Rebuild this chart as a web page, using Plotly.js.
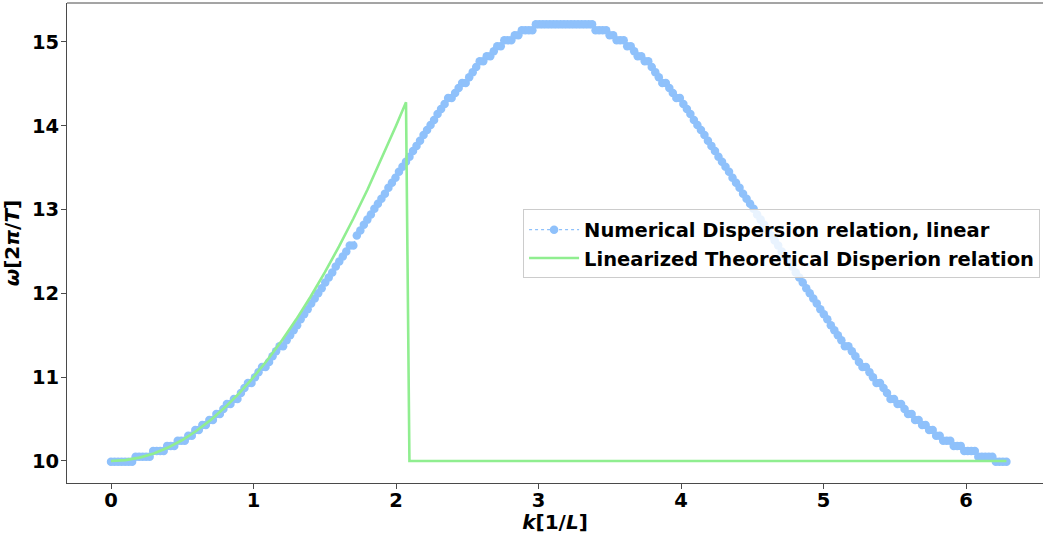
<!DOCTYPE html>
<html>
<head>
<meta charset="utf-8">
<script src="https://cdn.plot.ly/plotly-3.0.1.min.js"></script>
<style>html,body{margin:0;padding:0;background:#fff;}#chart{width:1043px;height:534px;}</style>
</head>
<body>
<div id="chart"></div>
<script>
// Numerical dispersion relation (256 modes, k from 0 to 2*pi, evenly spaced)
const kStart = 0;
const kStep = 0.02464;
const omegaNumerical = [
  9.99,9.99,9.99,9.99,9.99,9.99,9.99,10.05,10.05,10.05,
  10.05,10.05,10.12,10.12,10.12,10.12,10.18,10.18,10.18,10.24,
  10.24,10.24,10.30,10.30,10.37,10.37,10.43,10.43,10.49,10.49,
  10.56,10.56,10.62,10.68,10.68,10.74,10.74,10.81,10.87,10.93,
  10.93,11.00,11.06,11.12,11.12,11.18,11.25,11.31,11.37,11.37,
  11.44,11.50,11.56,11.62,11.69,11.75,11.81,11.88,11.94,12.00,
  12.06,12.13,12.19,12.25,12.32,12.38,12.44,12.50,12.57,12.57,
  12.69,12.75,12.82,12.88,12.94,13.01,13.07,13.13,13.19,13.26,
  13.32,13.38,13.45,13.51,13.57,13.63,13.70,13.76,13.82,13.89,
  13.95,14.01,14.07,14.14,14.20,14.26,14.33,14.33,14.39,14.45,
  14.51,14.51,14.58,14.64,14.70,14.77,14.77,14.83,14.83,14.89,
  14.95,14.95,15.02,15.02,15.02,15.08,15.08,15.14,15.14,15.14,
  15.14,15.21,15.21,15.21,15.21,15.21,15.21,15.21,15.21,15.21,
  15.21,15.21,15.21,15.21,15.21,15.21,15.21,15.21,15.14,15.14,
  15.14,15.14,15.08,15.08,15.02,15.02,15.02,14.95,14.95,14.89,
  14.83,14.83,14.77,14.77,14.70,14.64,14.58,14.51,14.51,14.45,
  14.39,14.33,14.33,14.26,14.20,14.14,14.07,14.01,13.95,13.89,
  13.82,13.76,13.70,13.63,13.57,13.51,13.45,13.38,13.32,13.26,
  13.19,13.13,13.07,13.01,12.94,12.88,12.82,12.75,12.69,12.63,
  12.57,12.50,12.44,12.38,12.32,12.25,12.19,12.13,12.06,12.00,
  11.94,11.88,11.81,11.75,11.69,11.62,11.56,11.50,11.44,11.37,
  11.37,11.31,11.25,11.18,11.12,11.12,11.06,11.00,10.93,10.93,
  10.87,10.81,10.74,10.74,10.68,10.68,10.62,10.56,10.56,10.49,
  10.49,10.43,10.43,10.37,10.37,10.30,10.30,10.24,10.24,10.24,
  10.18,10.18,10.18,10.12,10.12,10.12,10.12,10.05,10.05,10.05,
  10.05,10.05,9.99,9.99,9.99,9.99
];

// Linearized theoretical dispersion relation
const kTheory = [0,0.1,0.2,0.3,0.4,0.5,0.6,0.7,0.8,0.9,1.0,1.1,1.2,1.3,1.4,1.5,1.6,1.7,1.8,1.9,2.0,2.07,2.094,6.283];
const omegaTheory = [10.00,10.01,10.04,10.09,10.16,10.25,10.36,10.49,10.64,10.81,11.00,11.21,11.44,11.69,11.96,12.25,12.56,12.89,13.24,13.61,14.00,14.28,10.00,10.00];

const xTicks = [0,1,2,3,4,5,6];
const yTicks = [10,11,12,13,14,15];

const seriesNames = ['Numerical Dispersion relation, linear', 'Linearized Theoretical Disperion relation'];

const FONT = 'DejaVu Sans, Liberation Sans, sans-serif';
const blue = '#8fc1fb';
const green = '#90ee90';
const spine = '#4a4a4a';

const traces = [
  {
    type: 'scatter',
    mode: 'lines+markers',
    name: seriesNames[0],
    x0: kStart,
    dx: kStep,
    y: omegaNumerical,
    line: {color: blue, width: 1.3, dash: 'dot'},
    marker: {color: blue, size: 8.5, line: {width: 0}},
    hoverinfo: 'x+y'
  },
  {
    type: 'scatter',
    mode: 'lines',
    name: seriesNames[1],
    x: kTheory,
    y: omegaTheory,
    line: {color: green, width: 2.6},
    hoverinfo: 'x+y'
  }
];

const axisCommon = {
  showgrid: false,
  zeroline: false,
  showline: true,
  linecolor: spine,
  linewidth: 1,
  ticks: 'outside',
  ticklen: 5,
  tickwidth: 1,
  tickcolor: spine,
  tickfont: {family: FONT, size: 19.5, color: '#000', weight: 'bold'}
};

const layout = {
  width: 1043,
  height: 534,
  margin: {l: 67, r: 0, t: 3, b: 51},
  paper_bgcolor: '#ffffff',
  plot_bgcolor: '#ffffff',
  font: {family: FONT, size: 19.5, color: '#000', weight: 'bold'},
  showlegend: true,
  xaxis: Object.assign({}, axisCommon, {
    range: [-0.309, 6.540],
    tickmode: 'array',
    tickvals: xTicks,
    ticktext: xTicks.map(String),
    ticklabelstandoff: -5,
    title: {text: '<i>k</i>[1/<i>L</i>]', font: {family: FONT, size: 20, color: '#000', weight: 'bold'}, standoff: 5}
  }),
  yaxis: Object.assign({}, axisCommon, {
    range: [9.737, 15.465],
    tickmode: 'array',
    tickvals: yTicks,
    ticktext: yTicks.map(String),
    ticklabelstandoff: -2,
    title: {text: '<i>ω</i>[2<i>π</i>/<i>T</i>]', font: {family: FONT, size: 20, color: '#000', weight: 'bold'}, standoff: 6}
  }),
  shapes: [
    {type: 'line', xref: 'paper', yref: 'paper', x0: 0, x1: 1, y0: 1, y1: 1, line: {color: spine, width: 1}}
  ],
  legend: {
    x: 0.997, xanchor: 'right',
    y: 0.498, yanchor: 'middle',
    bgcolor: 'rgba(255,255,255,0.8)',
    bordercolor: '#cccccc',
    borderwidth: 1,
    itemwidth: 50,
    font: {family: FONT, size: 19.5, color: '#000', weight: 'bold'},
    tracegroupgap: 0
  }
};

Plotly.newPlot('chart', traces, layout, {displayModeBar: false, staticPlot: true});
</script>
</body>
</html>
